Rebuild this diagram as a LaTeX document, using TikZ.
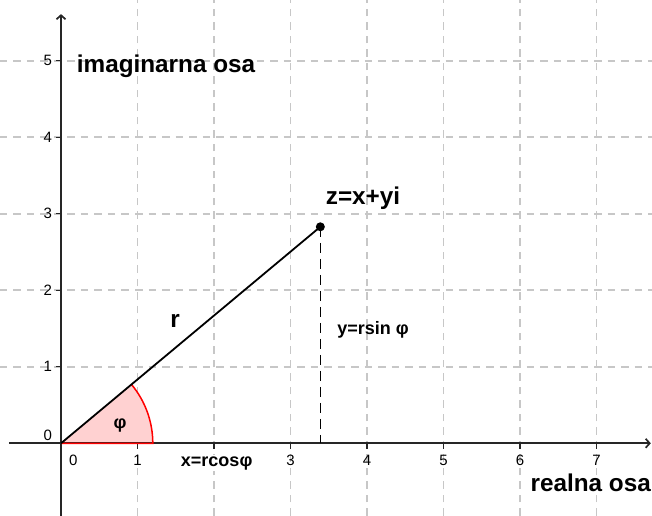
\documentclass[tikz,border=0pt]{standalone}
\usepackage{fontspec}
\setmainfont{Liberation Sans}
\usetikzlibrary{arrows.meta}
\tikzset{
  gridline/.style={draw=black!22, line width=1.8pt, dash pattern=on 7.5pt off 6pt},
  axisline/.style={draw=black!85, line width=1.7pt, -{Straight Barb[length=4pt,width=9pt]}},
  ticklbl/.style={font=\fontsize{15}{15}\selectfont, inner sep=0pt},
  biglbl/.style={font=\fontsize{24.3}{24.3}\selectfont\bfseries, inner sep=0pt},
  midlbl/.style={font=\fontsize{18}{18}\selectfont\bfseries, inner sep=1pt},
  smalllbl/.style={font=\fontsize{18}{18}\selectfont\bfseries, inner sep=1pt},
}
\begin{document}
\begin{tikzpicture}[x=76.5pt,y=76.5pt]
\useasboundingbox (-0.7974,-0.9503) rectangle (7.7255,5.7948);
% grid
\foreach \k in {1,...,5} \draw[gridline] (-0.7974,\k) -- (7.7255,\k);
\foreach \k in {1,...,7} \draw[gridline] (\k,-0.9503) -- (\k,5.7948);
% sector
\coordinate (O) at (0,0);
\coordinate (Z) at (3.39,2.83);
\coordinate (X) at (3.39,0);
\fill[red!18] (O) -- (1.2,0) arc[start angle=0,end angle=39.86,radius=1.2] -- cycle;
% axes
\coordinate (xs) at (-0.68,0);
\coordinate (xe) at (7.71,0);
\coordinate (ys) at (0,-0.9503);
\coordinate (ye) at (0,5.61);
\draw[axisline] (xs) -- (xe);
\draw[axisline] (ys) -- (ye);
% ticks
\foreach \k in {1,...,7} \draw[black!85, line width=1.2pt] (\k,0) -- (\k,-0.07);
\foreach \k in {1,...,5} \draw[black!85, line width=1.2pt] (0,\k) -- (-0.07,\k);
% tick labels
\foreach \k in {1,3,4,5,6,7} \node[ticklbl] (tx\k) at (\k,-0.22) {\k};
\node[ticklbl] (tx0) at (0.16,-0.22) {0};
\foreach \k in {1,...,5} \node[ticklbl, anchor=east] (ty\k) at (-0.115,\k) {\k};
\node[ticklbl, anchor=east] (ty0) at (-0.115,0.1) {0};
% sector edges
\draw[red, line width=1.5pt] (O) -- (1.2,0) arc[start angle=0,end angle=39.86,radius=1.2];
% vector
\draw[black, line width=1.8pt] (O) -- (Z);
\draw[black, line width=1.2pt, dash pattern=on 10pt off 6pt] (Z) -- (X);
\fill[black] (Z) circle[radius=4.5pt];
% labels
\node[biglbl] (im) at (1.373,4.93) {imaginarna osa};
\node[biglbl] (re) at (6.925,-0.52) {realna osa};
\node[biglbl] (zl) at (3.948,3.207) {z=x+yi};
\node[biglbl] (rl) at (1.49,1.60) {r};
\node[midlbl] (phi) at (0.771,0.239) {φ};
\node[smalllbl] (yl) at (4.078,1.48) {y=rsin φ};
\node[smalllbl, fill=white] (xl) at (2.035,-0.258) {x=rcosφ};
\end{tikzpicture}
\end{document}
